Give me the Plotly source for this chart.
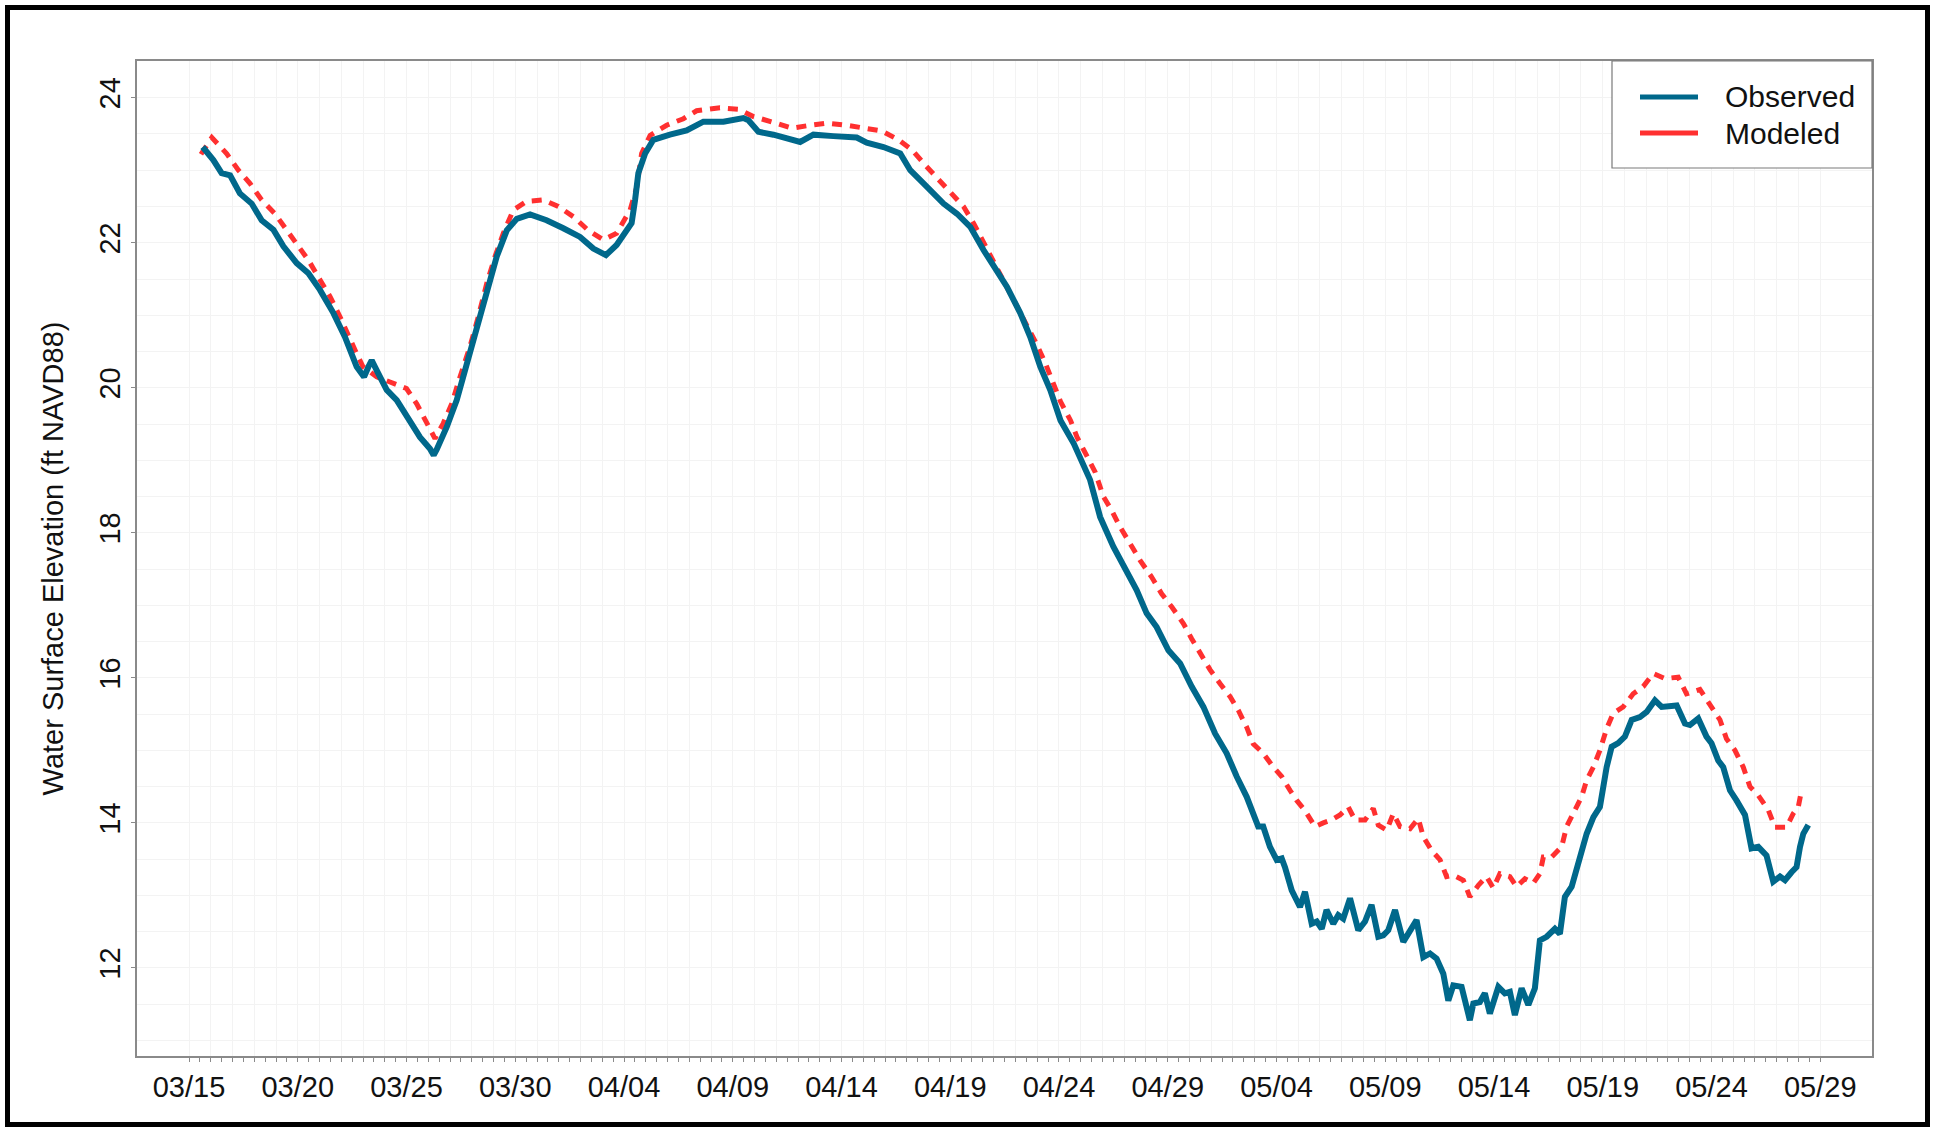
import pandas as pd
import plotly.graph_objects as go

# ---------------- data (days after 03/15 00:00, ft NAVD88) ----------------
START_DATE = "2021-03-15"

obs_day = [0.63, 1.12, 1.50, 1.89, 2.34, 2.88, 3.34, 3.88, 4.34, 4.95, 5.49, 6.02, 6.64, 7.17,
           7.71, 8.05, 8.25, 8.40, 8.63, 9.09, 9.55, 10.16, 10.62, 11.08, 11.25, 11.39, 11.85,
           12.31, 12.77, 13.23, 13.69, 14.15, 14.61, 15.07, 15.68, 16.44, 17.21, 17.98, 18.59,
           19.17, 19.66, 20.35, 20.51, 20.66, 20.97, 21.35, 22.11, 22.88, 23.65, 24.57, 25.49,
           25.72, 26.18, 26.87, 28.10, 28.71, 29.63, 30.70, 31.16, 31.93, 32.70, 33.16, 33.77,
           34.69, 35.31, 35.92, 36.53, 36.99, 37.61, 38.22, 38.68, 39.14, 39.60, 40.07, 40.68,
           41.43, 41.89, 42.50, 43.04, 43.57, 44.03, 44.49, 45.03, 45.57, 46.10, 46.64, 47.18,
           47.71, 48.17, 48.63, 49.16, 49.39, 49.70, 50.01, 50.24, 50.39, 50.70, 51.08, 51.31,
           51.62, 51.85, 52.08, 52.30, 52.61, 52.84, 53.07, 53.38, 53.76, 54.07, 54.37, 54.68,
           54.91, 55.14, 55.45, 55.83, 56.14, 56.44, 56.75, 57.06, 57.36, 57.67, 57.90, 58.13,
           58.51, 58.89, 59.05, 59.35, 59.58, 59.81, 60.20, 60.50, 60.73, 60.96, 61.27, 61.58,
           61.88, 62.11, 62.42, 62.80, 63.03, 63.26, 63.57, 63.95, 64.26, 64.57, 64.87, 65.18,
           65.41, 65.71, 66.02, 66.33, 66.71, 67.02, 67.40, 67.71, 68.09, 68.40, 68.78, 69.01,
           69.39, 69.77, 70.00, 70.31, 70.54, 70.85, 71.15, 71.54, 71.84, 72.15, 72.53, 72.84,
           73.15, 73.38, 73.68, 73.91, 74.07, 74.22, 74.45]
obs_val = [23.32, 23.14, 22.96, 22.93, 22.68, 22.54, 22.31, 22.18, 21.95, 21.72, 21.58, 21.35,
           21.03, 20.70, 20.29, 20.15, 20.29, 20.38, 20.24, 19.97, 19.83, 19.55, 19.32, 19.16,
           19.07, 19.15, 19.46, 19.83, 20.34, 20.84, 21.35, 21.81, 22.17, 22.33, 22.39, 22.31,
           22.20, 22.08, 21.92, 21.83, 21.97, 22.27, 22.59, 22.96, 23.23, 23.42, 23.49, 23.55,
           23.67, 23.67, 23.72, 23.69, 23.53, 23.49, 23.39, 23.49, 23.47, 23.45, 23.38, 23.32,
           23.23, 23.00, 22.82, 22.54, 22.40, 22.22, 21.90, 21.67, 21.39, 21.03, 20.70, 20.29,
           19.97, 19.55, 19.23, 18.73, 18.22, 17.81, 17.49, 17.21, 16.89, 16.70, 16.38, 16.20,
           15.88, 15.60, 15.23, 14.96, 14.64, 14.36, 13.95, 13.95, 13.67, 13.49, 13.51, 13.39,
           13.07, 12.84, 13.05, 12.61, 12.64, 12.54, 12.80, 12.61, 12.73, 12.68, 12.96, 12.52,
           12.64, 12.87, 12.43, 12.45, 12.52, 12.80, 12.36, 12.52, 12.66, 12.15, 12.20, 12.13,
           11.92, 11.55, 11.76, 11.74, 11.28, 11.51, 11.53, 11.65, 11.37, 11.74, 11.65, 11.67,
           11.35, 11.72, 11.49, 11.72, 12.38, 12.43, 12.54, 12.47, 12.98, 13.12, 13.49, 13.85,
           14.08, 14.22, 14.77, 15.05, 15.10, 15.19, 15.42, 15.46, 15.53, 15.69, 15.60, 15.60,
           15.62, 15.37, 15.35, 15.44, 15.19, 15.10, 14.86, 14.77, 14.45, 14.31, 14.11, 13.65,
           13.67, 13.55, 13.19, 13.26, 13.21, 13.32, 13.39, 13.67, 13.85, 13.97]

mod_day = [0.55, 1.05, 1.73, 2.27, 2.80, 3.34, 3.95, 4.49, 4.95, 5.49, 6.02, 6.48, 6.94, 7.33,
           7.71, 8.00, 8.63, 9.24, 10.00, 10.47, 10.93, 11.31, 11.69, 12.08, 12.46, 12.92,
           13.30, 13.69, 14.07, 14.45, 14.91, 15.52, 16.29, 16.98, 17.67, 18.36, 19.05, 19.66,
           20.28, 20.59, 20.81, 21.20, 21.96, 22.73, 23.34, 24.41, 25.26, 25.95, 26.87, 27.71,
           28.56, 29.33, 30.25, 31.01, 31.86, 32.62, 33.24, 33.85, 34.39, 35.08, 35.61, 36.07,
           36.53, 36.92, 37.38, 37.76, 38.22, 38.61, 38.99, 39.37, 39.76, 40.07, 40.53, 40.83,
           41.66, 42.04, 42.42, 42.81, 43.27, 43.73, 44.26, 44.72, 45.18, 45.72, 46.10, 46.49,
           46.95, 47.41, 47.87, 48.25, 48.63, 48.93, 49.39, 49.85, 50.24, 50.62, 50.93, 51.31,
           51.77, 52.15, 52.53, 52.92, 53.30, 53.61, 54.07, 54.45, 54.68, 55.07, 55.37, 55.68,
           56.14, 56.52, 56.75, 57.13, 57.52, 57.82, 58.13, 58.59, 58.89, 59.28, 59.66, 59.97,
           60.27, 60.73, 61.04, 61.42, 61.81, 62.11, 62.27, 62.65, 63.11, 63.34, 63.65, 64.03,
           64.26, 64.57, 64.87, 65.18, 65.48, 65.94, 66.40, 66.86, 67.32, 67.86, 68.47, 68.85,
           69.47, 69.93, 70.39, 70.69, 71.08, 71.46, 71.77, 72.15, 72.61, 72.92, 73.45, 73.76,
           73.99, 74.14]
mod_val = [23.22, 23.45, 23.23, 23.00, 22.82, 22.59, 22.40, 22.17, 21.99, 21.76, 21.49, 21.26,
           20.98, 20.70, 20.47, 20.29, 20.15, 20.08, 19.99, 19.78, 19.51, 19.30, 19.51, 19.78,
           20.15, 20.57, 20.98, 21.44, 21.81, 22.13, 22.45, 22.57, 22.59, 22.50, 22.36, 22.17,
           22.04, 22.13, 22.45, 22.77, 23.23, 23.48, 23.62, 23.71, 23.82, 23.86, 23.84, 23.74,
           23.66, 23.58, 23.62, 23.65, 23.62, 23.58, 23.54, 23.42, 23.28, 23.07, 22.89, 22.68,
           22.50, 22.27, 22.01, 21.78, 21.53, 21.30, 21.05, 20.84, 20.59, 20.34, 20.06, 19.81,
           19.55, 19.32, 18.84, 18.50, 18.31, 18.08, 17.85, 17.62, 17.39, 17.16, 16.98, 16.75,
           16.54, 16.34, 16.11, 15.92, 15.74, 15.55, 15.32, 15.09, 14.96, 14.77, 14.64, 14.45,
           14.31, 14.17, 13.95, 14.00, 14.04, 14.11, 14.22, 14.04, 14.04, 14.20, 13.97, 13.90,
           14.13, 13.95, 13.92, 14.06, 13.81, 13.62, 13.49, 13.26, 13.28, 13.21, 12.98, 13.14,
           13.26, 13.10, 13.30, 13.26, 13.12, 13.23, 13.17, 13.30, 13.53, 13.53, 13.67, 13.95,
           14.13, 14.36, 14.59, 14.77, 15.00, 15.30, 15.51, 15.60, 15.78, 15.88, 16.06, 15.99,
           16.01, 15.78, 15.84, 15.62, 15.42, 15.16, 15.00, 14.77, 14.50, 14.38, 14.18, 13.94,
           13.94, 14.13, 14.22, 14.45]

x_tick_labels = ["03/15", "03/20", "03/25", "03/30", "04/04", "04/09", "04/14", "04/19",
                 "04/24", "04/29", "05/04", "05/09", "05/14", "05/19", "05/24", "05/29"]
y_tick_values = [12, 14, 16, 18, 20, 22, 24]
series_names = ["Observed", "Modeled"]
y_title = "Water Surface Elevation (ft NAVD88)"

# ---------------- build ----------------
start = pd.Timestamp(START_DATE)
obs_t = start + pd.to_timedelta(obs_day, unit="D")
mod_t = start + pd.to_timedelta(mod_day, unit="D")

OBS_COLOR = "#00688B"
MOD_COLOR = "#FF3030"
FONT = "Liberation Sans, Arial, sans-serif"
GRID = "#f3f3f3"
AXIS = "#8a8a8a"
TEXT = "#111111"

W, H = 1937, 1129
L, R, T, B = 137, 65, 61, 73
pw, ph = W - L - R, H - T - B


def px_x(p):
    return (p - L) / pw


def px_y(p):
    return (H - B - p) / ph


fig = go.Figure()
fig.add_trace(go.Scatter(x=mod_t, y=mod_val, mode="lines", name=series_names[1],
                         line=dict(color=MOD_COLOR, width=5, dash="10px,8px"),
                         showlegend=False))
fig.add_trace(go.Scatter(x=obs_t, y=obs_val, mode="lines", name=series_names[0],
                         line=dict(color=OBS_COLOR, width=6),
                         showlegend=False))

n_days = 75
day_ticks = [start + pd.Timedelta(days=i) for i in range(n_days + 1)]
day_text = [x_tick_labels[i // 5] if i % 5 == 0 else "" for i in range(n_days + 1)]
half_ticks = [start + pd.Timedelta(hours=12 * i) for i in range(2 * n_days + 1)]

fig.update_xaxes(
    range=[start - pd.Timedelta(days=2.391), start + pd.Timedelta(days=77.38)],
    tickmode="array", tickvals=day_ticks, ticktext=day_text,
    ticks="outside", ticklen=4, tickwidth=1, tickcolor=AXIS,
    showgrid=True, gridcolor=GRID, gridwidth=1,
    minor=dict(tickmode="array", tickvals=half_ticks, ticks="outside", ticklen=4,
               tickcolor=AXIS, showgrid=False),
    showline=True, linecolor=AXIS, linewidth=1.5, mirror=True,
    tickfont=dict(family=FONT, size=29, color=TEXT),
    zeroline=False,
)
fig.update_yaxes(
    range=[10.786, 24.506],
    tickmode="array", tickvals=y_tick_values, ticktext=[str(v) for v in y_tick_values],
    tickangle=-90,
    ticks="outside", ticklen=4, tickwidth=1, tickcolor=AXIS,
    showgrid=True, gridcolor=GRID, gridwidth=1,
    minor=dict(dtick=0.5, showgrid=True, gridcolor=GRID, ticks=""),
    showline=True, linecolor=AXIS, linewidth=1.5, mirror=True,
    tickfont=dict(family=FONT, size=29, color=TEXT),
    title=dict(text=y_title, font=dict(family=FONT, size=29, color=TEXT), standoff=22),
    zeroline=False,
)

shapes = [
    # outer black frame
    dict(type="rect", xref="paper", yref="paper",
         x0=px_x(7.5), x1=px_x(1927.5), y0=px_y(1124.5), y1=px_y(7.5),
         line=dict(color="black", width=5), fillcolor="rgba(0,0,0,0)", layer="above"),
    # legend box
    dict(type="rect", xref="paper", yref="paper",
         x0=px_x(1612), x1=px_x(1872), y0=px_y(168), y1=px_y(61),
         line=dict(color="#7a7a7a", width=1.2), fillcolor="white", layer="above"),
    dict(type="line", xref="paper", yref="paper",
         x0=px_x(1640), x1=px_x(1698), y0=px_y(97), y1=px_y(97),
         line=dict(color=OBS_COLOR, width=5), layer="above"),
    dict(type="line", xref="paper", yref="paper",
         x0=px_x(1640), x1=px_x(1698), y0=px_y(133), y1=px_y(133),
         line=dict(color=MOD_COLOR, width=5), layer="above"),
]
annotations = [
    dict(xref="paper", yref="paper", x=px_x(1723), y=px_y(97), text=series_names[0],
         showarrow=False, xanchor="left", yanchor="middle",
         font=dict(family=FONT, size=30, color=TEXT)),
    dict(xref="paper", yref="paper", x=px_x(1723), y=px_y(133), text=series_names[1],
         showarrow=False, xanchor="left", yanchor="middle",
         font=dict(family=FONT, size=30, color=TEXT)),
]

fig.update_layout(
    width=W, height=H,
    margin=dict(l=L, r=R, t=T, b=B, autoexpand=False),
    paper_bgcolor="white", plot_bgcolor="white",
    showlegend=False,
    shapes=shapes, annotations=annotations,
)

fig.write_html("out.html")
